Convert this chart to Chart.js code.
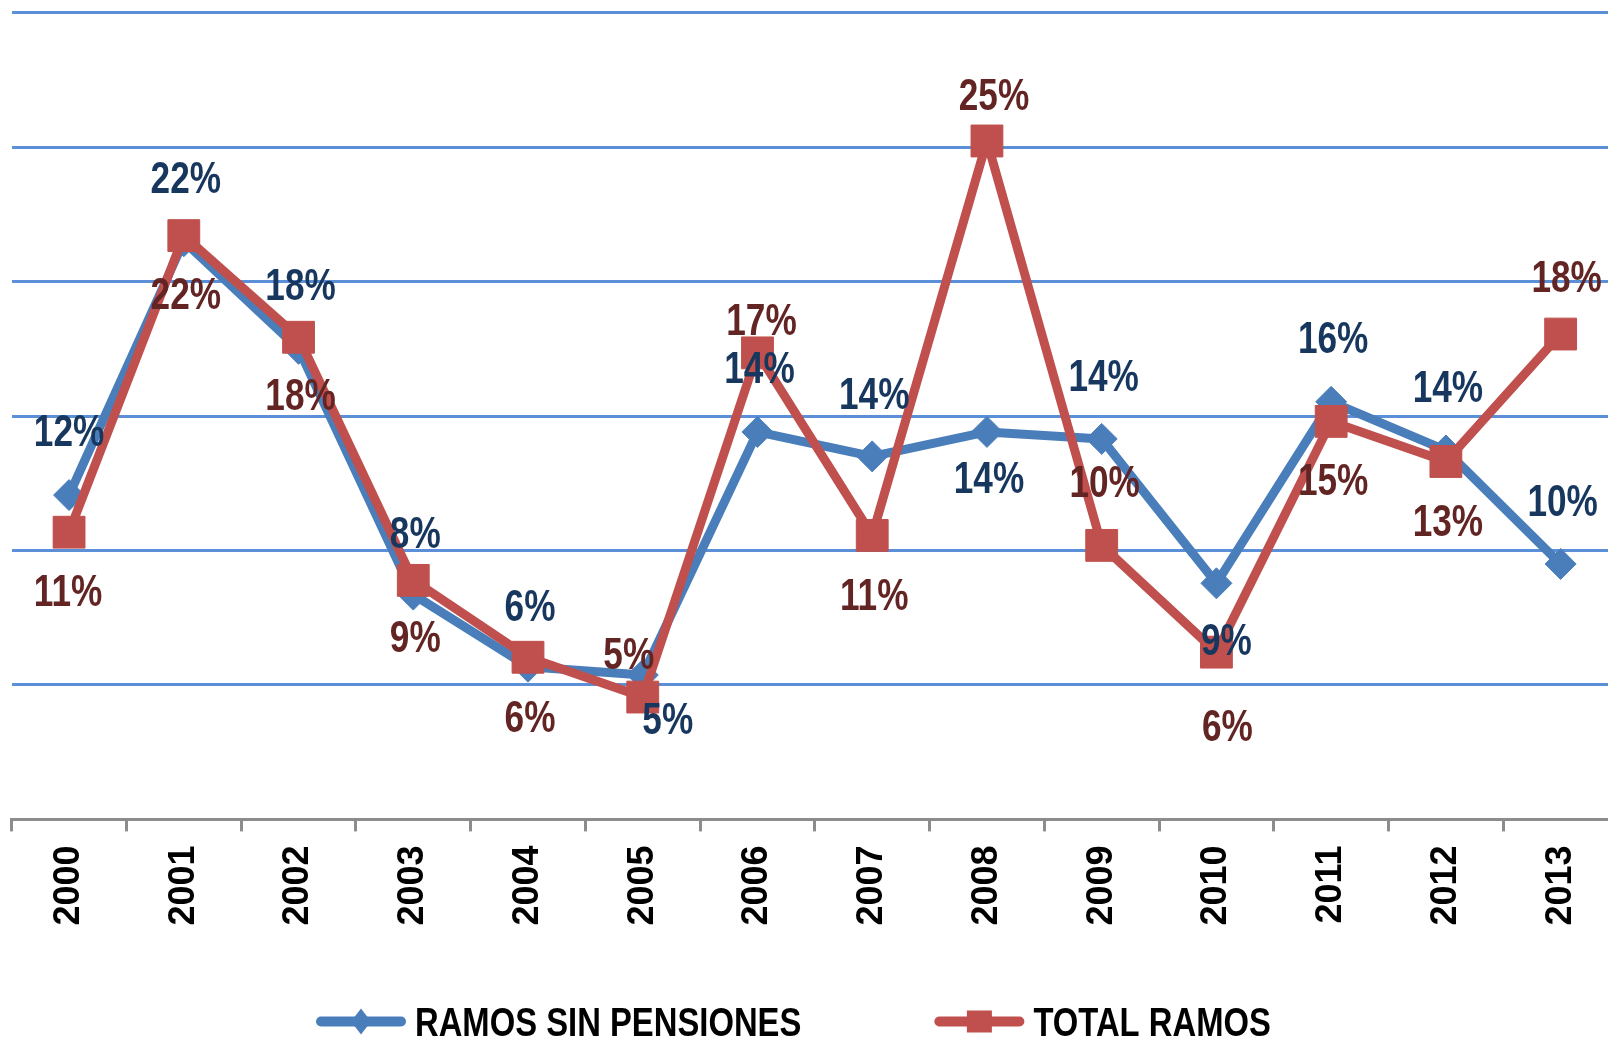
<!DOCTYPE html>
<html>
<head>
<meta charset="utf-8">
<script src="https://cdn.jsdelivr.net/npm/chart.js@4.4.1/dist/chart.umd.min.js"></script>
<style>
  html, body { margin: 0; padding: 0; background: #fff; overflow: hidden; }
  #wrap { width: 1620px; height: 1040px; }
</style>
</head>
<body>
<div id="wrap"><canvas id="chart" width="1620" height="1040"></canvas></div>
<script>
// data (growth, %)
const years = ['2000', '2001', '2002', '2003', '2004', '2005', '2006',
               '2007', '2008', '2009', '2010', '2011', '2012', '2013'];
const ramosSinPensiones = [12.06, 21.5, 17.5, 8.36, 5.68, 5.37, 14.41,
                           13.5, 14.41, 14.15, 8.78, 15.53, 13.72, 9.5];
const totalRamos = [10.68, 21.71, 17.93, 8.89, 6.03, 4.55, 17.35,
                    10.56, 25.23, 10.19, 6.22, 14.8, 13.31, 18.05];
const seriesNames = ['RAMOS SIN PENSIONES', 'TOTAL RAMOS'];
const yMin = 0, yMax = 30, yStep = 5;

// where each value label sits relative to its marker (px)
const blueLabelDy = [-61, -60, -61, -59, -58, 47, -61, -60, 49, -60, 60, -61, -61, -60];
const blueLabelDx = [0, 2, 2, 2, 2, 25, 2, 2, 2, 2, 10, 2, 2, 2];
const redLabelDy = [62, 61, 61, 60, 63, -40, -30, 62, -43, -61, 77, 61, 62, -54];
const redLabelDx = [-1, 2, 2, 2, 2, -14, 4, 2, 7, 3, 11, 2, 2, 6];

const BLUE = '#4A7EBB';
const RED = '#C0504D';
// no Arial Narrow here, so squeeze Liberation Sans the way Narrow does
const NARROW = 0.8;
const FONT = '"Liberation Sans", Arial, sans-serif';

function narrowText(ctx, text, x, y) {
  ctx.save();
  ctx.translate(x, y);
  ctx.scale(NARROW, 1);
  ctx.fillText(text, 0, 0);
  ctx.restore();
}

const pointLabels = {
  id: 'pointLabels',
  afterDatasetsDraw(chart) {
    const ctx = chart.ctx;
    const shifts = [[blueLabelDx, blueLabelDy, '#17375E'], [redLabelDx, redLabelDy, '#632523']];
    ctx.save();
    ctx.font = 'bold 44px ' + FONT;
    ctx.textAlign = 'center';
    ctx.textBaseline = 'middle';
    chart.data.datasets.forEach((ds, i) => {
      const [dx, dy, color] = shifts[i];
      ctx.fillStyle = color;
      chart.getDatasetMeta(i).data.forEach((pt, j) => {
        narrowText(ctx, Math.round(ds.data[j]) + '%', pt.x + dx[j], pt.y + dy[j]);
      });
    });
    ctx.restore();
  }
};

// excel style legend: line with marker, then the name
const lineLegend = {
  id: 'lineLegend',
  afterDraw(chart) {
    const ctx = chart.ctx;
    const lineW = 90, textGap = 9, itemGap = 133;
    const y = 1021.5;
    let x = 316;
    ctx.save();
    ctx.font = 'bold 41px ' + FONT;
    chart.data.datasets.forEach(ds => {
      ctx.strokeStyle = ds.borderColor;
      ctx.lineWidth = 10;
      ctx.lineCap = 'round';
      ctx.beginPath();
      ctx.moveTo(x + 5, y);
      ctx.lineTo(x + lineW - 5, y);
      ctx.stroke();
      ctx.fillStyle = ds.borderColor;
      const cx = x + lineW / 2;
      if (ds.pointStyle === 'rectRot') {
        ctx.beginPath();
        ctx.moveTo(cx, y - 13);
        ctx.lineTo(cx + 10, y);
        ctx.lineTo(cx, y + 13);
        ctx.lineTo(cx - 10, y);
        ctx.closePath();
        ctx.fill();
      } else {
        ctx.fillRect(cx - 12.5, y - 11, 25, 22);
      }
      ctx.fillStyle = '#000';
      ctx.textBaseline = 'alphabetic';
      narrowText(ctx, ds.label, x + lineW + textGap, 1035.5);
      x += lineW + textGap + ctx.measureText(ds.label).width * NARROW + itemGap;
    });
    ctx.restore();
  }
};

new Chart(document.getElementById('chart'), {
  type: 'line',
  data: {
    labels: years,
    datasets: [{
      label: seriesNames[0],
      data: ramosSinPensiones,
      borderColor: BLUE,
      backgroundColor: BLUE,
      borderWidth: 9,
      borderJoinStyle: 'round',
      pointStyle: 'rectRot',
      pointRadius: 15.5,
      pointBackgroundColor: BLUE,
      pointBorderColor: BLUE,
      pointBorderWidth: 1,
      order: 2
    }, {
      label: seriesNames[1],
      data: totalRamos,
      borderColor: RED,
      backgroundColor: RED,
      borderWidth: 9,
      borderJoinStyle: 'round',
      pointStyle: 'rect',
      pointRadius: 22.5,
      pointBackgroundColor: RED,
      pointBorderColor: RED,
      pointBorderWidth: 1,
      order: 1
    }]
  },
  options: {
    responsive: false,
    animation: false,
    layout: { autoPadding: false, padding: { left: 11.7, top: 12.7, right: 2, bottom: 0 } },
    plugins: {
      legend: { display: false },
      tooltip: { enabled: false }
    },
    scales: {
      x: {
        offset: true,
        afterFit: s => { s.height = 220.6; },
        border: { color: '#8C8C8C', width: 3 },
        grid: {
          offset: true,
          drawOnChartArea: false,
          drawTicks: true,
          tickLength: 12,
          color: '#8C8C8C',
          lineWidth: 3
        },
        ticks: {
          autoSkip: false,
          minRotation: 90,
          maxRotation: 90,
          padding: 14,
          color: '#000',
          font: { family: FONT, weight: 'bold', size: 36 }
        }
      },
      y: {
        min: yMin,
        max: yMax,
        afterFit: s => { s.width = 0; },
        border: { display: false },
        grid: {
          drawTicks: false,
          lineWidth: 3,
          color: c => c.tick && c.tick.value === 0 ? 'rgba(0,0,0,0)' : '#5B8FD8'
        },
        ticks: { display: false, stepSize: yStep }
      }
    }
  },
  plugins: [pointLabels, lineLegend]
});
</script>
</body>
</html>
